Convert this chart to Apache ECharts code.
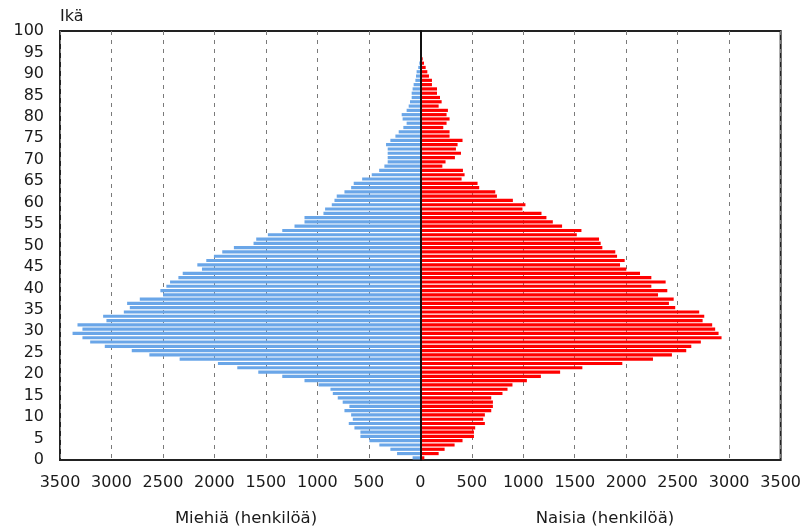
<!DOCTYPE html>
<html><head><meta charset="utf-8">
<script src="https://cdn.jsdelivr.net/npm/echarts@6/dist/echarts.min.js"></script>
<style>html,body{margin:0;padding:0;background:#fff}#c{width:804px;height:529px}</style>
</head><body><div id="c"></div>
<script>
// Age categories 0..99 (each bar spans one year of age)
const ages = Array.from({length: 100}, (_, i) => String(i));
// Men by age 0..92
const men = [75,226,291,398,495,582,582,640,695,656,
  672,737,689,754,802,850,873,989,1125,1341,
  1574,1778,1966,2338,2632,2803,3065,3207,3282,3378,
  3282,3330,3049,3081,2880,2822,2848,2725,2499,2525,
  2467,2431,2350,2308,2121,2166,2079,2005,1924,1811,
  1620,1594,1481,1341,1222,1125,1125,941,925,860,
  834,812,737,672,647,565,472,400,349,317,
  317,317,317,333,291,242,210,165,133,172,
  181,133,113,100,84,84,75,65,48,42,
  36,20,10];
// Women by age 0..93
const women = [39,178,236,333,410,521,521,533,627,611,
  627,689,705,705,689,798,847,895,1035,1171,
  1358,1574,1962,2260,2444,2583,2632,2725,2926,2897,
  2864,2835,2742,2758,2709,2476,2415,2461,2309,2399,
  2244,2383,2244,2134,2001,1940,1985,1911,1894,1768,
  1752,1736,1520,1565,1377,1287,1225,1177,992,1021,
  899,744,728,572,556,401,430,414,214,245,
  336,395,346,362,410,284,284,223,255,284,
  255,268,178,207,191,162,162,113,113,84,
  68,52,36,23];
const xMin = -3500, xMax = 3500, xStep = 500;
const yMin = 0, yMax = 100, yStep = 5;

const font = 'DejaVu Sans';
const txt = '#1a1a1a';
const chart = echarts.init(document.getElementById('c'));
chart.setOption({
  animation: false,
  backgroundColor: '#fff',
  grid: {left: 60, right: 23, top: 31, bottom: 69, show: true, borderColor: '#222', borderWidth: 2},
  title: [
    {text: 'Miehiä (henkilöä)', left: 241, top: 505, textAlign: 'center',
     textStyle: {fontFamily: font, fontSize: 16.5, fontWeight: 'normal', color: txt}},
    {text: 'Naisia (henkilöä)', left: 600, top: 505, textAlign: 'center',
     textStyle: {fontFamily: font, fontSize: 16.5, fontWeight: 'normal', color: txt}}
  ],
  xAxis: {
    type: 'value', min: xMin, max: xMax, interval: xStep,
    axisLine: {show: false}, axisTick: {show: false},
    axisLabel: {formatter: v => String(Math.abs(v)), fontFamily: font, fontSize: 16, color: txt, margin: 15},
    splitLine: {show: true, lineStyle: {type: [4, 5], color: '#7a7a7a', width: 1}}
  },
  yAxis: [
    {type: 'category', data: ages, position: 'left', z: 5,
     axisLine: {show: true, onZero: true, lineStyle: {color: '#111', width: 2}},
     axisTick: {show: false}, axisLabel: {show: false}, splitLine: {show: false}},
    {type: 'value', min: yMin, max: yMax, interval: yStep, position: 'left',
     name: 'Ikä', nameLocation: 'end', nameGap: 6,
     nameTextStyle: {align: 'left', fontFamily: font, fontSize: 16, color: txt},
     axisLine: {show: false, onZero: false}, axisTick: {show: false},
     axisLabel: {fontFamily: font, fontSize: 16, color: txt, margin: 16},
     splitLine: {show: false}}
  ],
  series: [
    {type: 'bar', name: 'Miehiä', yAxisIndex: 0, data: men.map(v => -v),
     barWidth: '74%', barGap: '-100%', itemStyle: {color: '#6aa6e8'}},
    {type: 'bar', name: 'Naisia', yAxisIndex: 0, data: women,
     barWidth: '74%', itemStyle: {color: '#ff0000'}}
  ]
});
</script></body></html>
